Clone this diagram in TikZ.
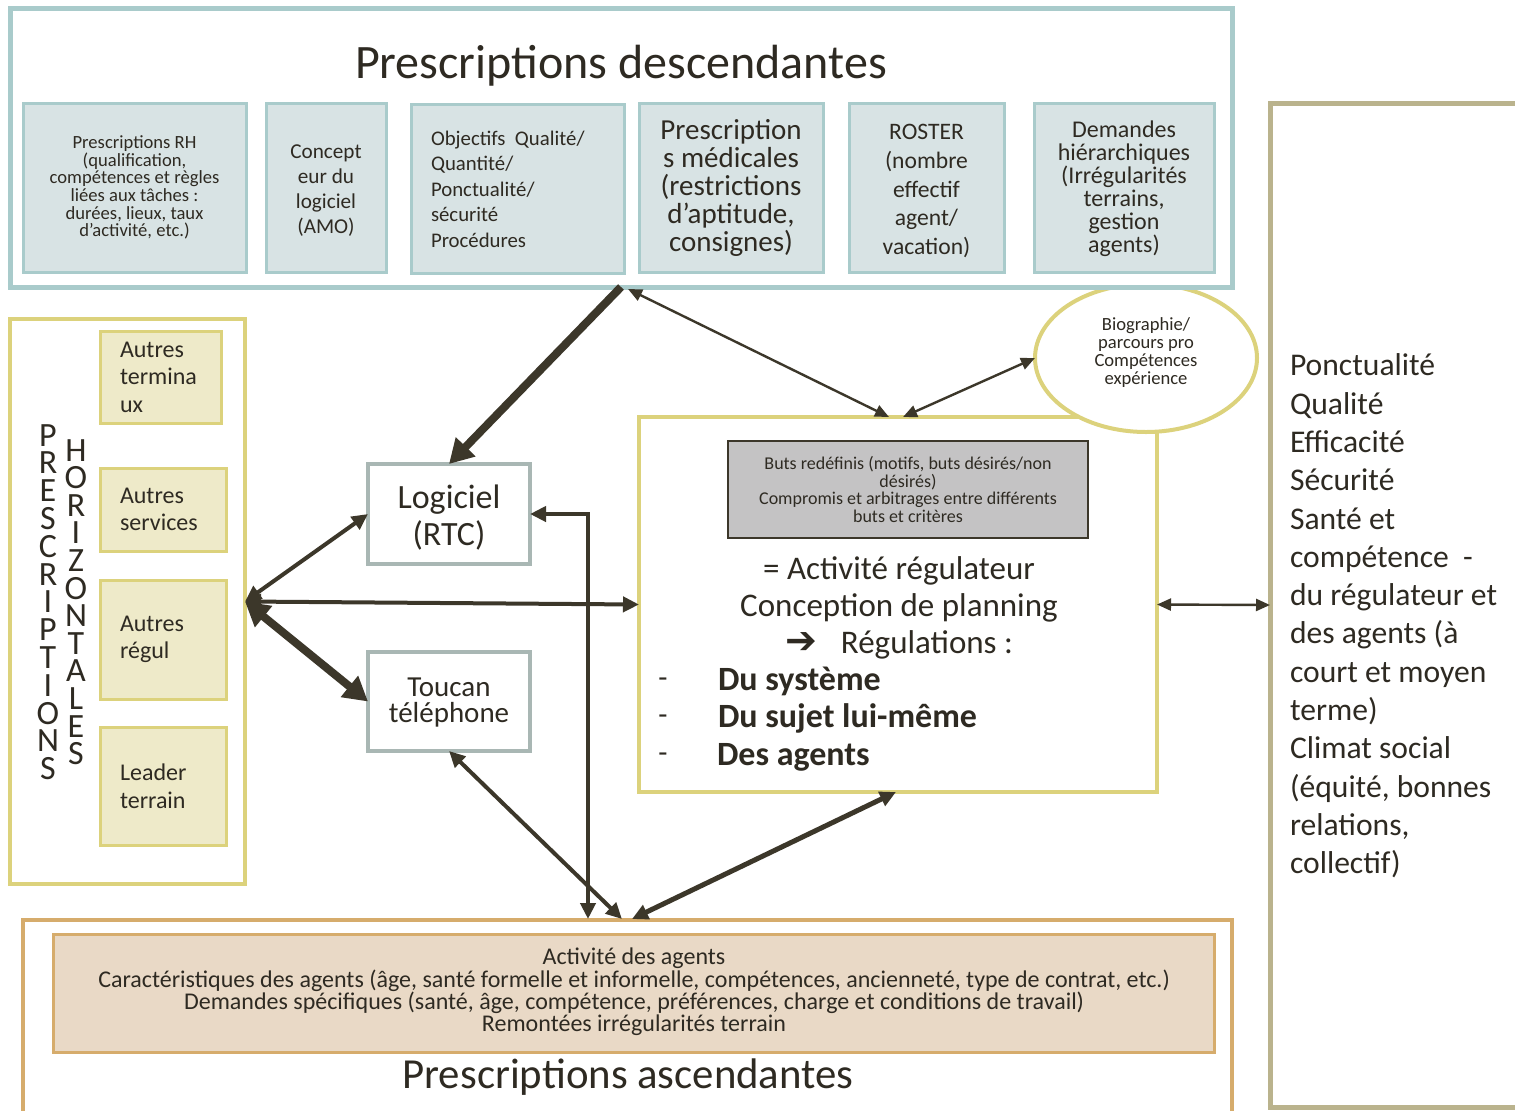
\documentclass[tikz,border=0pt]{standalone}
\usepackage{fontspec}
\setmainfont{Carlito}
\newfontfamily\symfont{DejaVu Sans}
\usetikzlibrary{arrows.meta,shapes.geometric}
\definecolor{ink}{HTML}{2E2A22}
\definecolor{teal}{HTML}{A9CBCB}
\definecolor{tealfill}{HTML}{D8E3E4}
\definecolor{ylw}{HTML}{DCD27C}
\definecolor{yfill}{HTML}{EEEAC9}
\definecolor{grayb}{HTML}{A9B7B4}
\definecolor{khaki}{HTML}{BAB38D}
\definecolor{tan}{HTML}{D6AC6C}
\definecolor{tanfill}{HTML}{E9D9C6}
\definecolor{dark}{HTML}{3C372A}
\definecolor{gfill}{HTML}{C4C3C4}
\newcommand\fsz[2]{\fontsize{#1}{#2}\selectfont\lineskiplimit=-30pt\relax}
\begin{document}
\begin{tikzpicture}[x=0.5pt,y=-0.5pt,
  every node/.style={text=ink, inner sep=0pt, outer sep=0pt},
  tbox/.style={draw=teal, fill=tealfill, line width=1.5pt, align=center},
  ybox/.style={draw=ylw, fill=yfill, line width=1.5pt, align=left, inner xsep=10pt, font={\fsz{12}{13.8}}},
  wbox/.style={draw=grayb, fill=white, line width=2pt, align=center},
  thinarr/.style={draw=dark, line width=1.2pt, {Triangle[length=7pt,width=6pt]}-{Triangle[length=7pt,width=6pt]}},
  medarr/.style={draw=dark, line width=2pt, {Triangle[length=8pt,width=7.5pt]}-{Triangle[length=8pt,width=7.5pt]}},
  thickarr/.style={draw=dark, line width=4pt, -{Triangle[length=12pt,width=13pt]}},
  thickdbl/.style={draw=dark, line width=4pt, {Triangle[length=12pt,width=13pt]}-{Triangle[length=12pt,width=13pt]}}
]
\useasboundingbox (0,0) rectangle (1515,1110);
\fill[white] (0,0) rectangle (1515,1110);

% left box
\node[draw=ylw, fill=white, line width=2pt, minimum width=117.5pt, minimum height=282.5pt] (left) at (127.5,601.5) {};
\node[ybox, minimum width=60.5pt, minimum height=46pt, text width=40.5pt] (ter) at (160.5,377) {Autres\\termina\\ux};
\node[ybox, minimum width=63pt, minimum height=41.5pt, text width=43pt] (serv) at (163,509.5) {Autres\\services};
\node[ybox, minimum width=63pt, minimum height=59.5pt, text width=43pt] (regul) at (163,639.5) {Autres\\régul};
\node[ybox, minimum width=63pt, minimum height=59pt, text width=43pt] (lead) at (163,786) {Leader\\terrain};
\node[align=center, font={\fsz{17}{13.9}}] (vp) at (48,602) {P\\R\\E\\S\\C\\R\\I\\P\\T\\I\\O\\N\\S};
\node[align=center, font={\fsz{17}{13.8}}] (vh) at (76,602) {H\\O\\R\\I\\Z\\O\\N\\T\\A\\L\\E\\S};

% central
\node[draw=ylw, fill=white, line width=2pt, minimum width=259pt, minimum height=187.5pt] (cent) at (898,604.5) {};
\node[draw=dark, fill=gfill, line width=1pt, minimum width=180pt, minimum height=48.5pt, align=center, font={\fsz{9}{8.75}}] (goal) at (908,489.5)
  {Buts redéfinis (motifs, buts désirés/non\\désirés)\\Compromis et arbitrages entre différents\\buts et critères};
\node[align=center, font={\fsz{16.5}{18.5}}] (act) at (899,608) {= Activité régulateur\\Conception de planning\\{\symfont\fontsize{19}{18.5}\selectfont ➔}\hspace{12pt}Régulations :};
\node[font={\fsz{15}{18}}] (d1) at (663,683) {-};
\node[font={\fsz{15}{18}}] (d2) at (663,720) {-};
\node[font={\fsz{15}{18}}] (d3) at (663,758) {-};
\node[anchor=mid west, font={\fsz{17}{18}\bfseries}] (l1) at (718,686) {Du système};
\node[anchor=mid west, font={\fsz{17}{18}\bfseries}] (l2) at (718,723) {Du sujet lui-même};
\node[anchor=mid west, font={\fsz{17}{18}\bfseries}] (l3) at (717,761) {Des agents};

% ellipse
\node[ellipse, draw=ylw, fill=white, line width=2pt, minimum width=111pt, minimum height=74pt] (ell) at (1146,358) {};
\node[align=center, font={\fsz{9.3}{9}}] (elltext) at (1146,353) {Biographie/\\parcours pro\\Compétences\\expérience};

% top box
\node[draw=teal, fill=white, line width=2.5pt, minimum width=611pt, minimum height=139.5pt] (top) at (621,147.5) {};
\node[font={\fsz{24}{26}}] (title) at (621,66) {Prescriptions descendantes};
\node[tbox, minimum width=111.5pt, minimum height=84.5pt, font={\fsz{9.3}{8.8}}] (rh) at (134.5,187.5)
  {Prescriptions RH\\(qualification,\\compétences et règles\\liées aux tâches :\\durées, lieux, taux\\d’activité, etc.)};
\node[tbox, minimum width=60pt, minimum height=84.5pt] (amo) at (326,187.5) {};
\node[align=center, font={\fsz{10.6}{12.6}}] (amotext) at (326,190.5) {Concept\\eur du\\logiciel\\(AMO)};
\node[tbox, align=left, inner xsep=10pt, text width=86.5pt, minimum width=106.5pt, minimum height=84.5pt, font={\fsz{10.4}{12.75}}] (obj) at (517.5,189)
  {Objectifs\hspace{0.45em}Qualité/\\Quantité/\\Ponctualité/\\sécurité\\Procédures};
\node[tbox, minimum width=92pt, minimum height=84.5pt, font={\fsz{14.5}{14}}] (med) at (731,187.5)
  {Prescription\\s médicales\\(restrictions\\d’aptitude,\\consignes)};
\node[tbox, minimum width=77.5pt, minimum height=84.5pt] (ros) at (926.5,187.5) {};
\node[align=center, font={\fsz{11.8}{14.3}}] (rostext) at (926.5,191) {ROSTER\\(nombre\\effectif\\agent/\\vacation)};
\node[tbox, minimum width=90pt, minimum height=84.5pt] (dem) at (1124,187.5) {};
\node[align=center, font={\fsz{12}{11.5}}] (demtext) at (1124,189) {Demandes\\hiérarchiques\\(Irrégularités\\terrains,\\gestion\\agents)};

% right box
\node[draw=khaki, fill=white, line width=2.5pt, minimum width=130pt, minimum height=502pt] (rbox) at (1400,605) {};
\node[anchor=west, align=left, font={\fsz{15.8}{19.15}}] (rtext) at (1290,616)
  {Ponctualité\\Qualité\\Efficacité\\Sécurité\\Santé et\\compétence\ \ -\\du régulateur et\\des agents (à\\court et moyen\\terme)\\Climat social\\(équité, bonnes\\relations,\\collectif)};

% bottom box
\node[draw=tan, fill=white, line width=2pt, minimum width=604.5pt, minimum height=105pt] (bot) at (627.5,1025) {};
\node[draw=tan, fill=tanfill, line width=1.5pt, minimum width=580.5pt, minimum height=59pt] (agents) at (633.5,993) {};
\node[align=center, font={\fsz{12}{11.2}}] (agtext) at (634,992)
  {Activité des agents\\Caractéristiques des agents (âge, santé formelle et informelle, compétences, ancienneté, type de contrat, etc.)\\Demandes spécifiques (santé, âge, compétence, préférences, charge et conditions de travail)\\Remontées irrégularités terrain};
\node[font={\fsz{21.4}{24}}] (asc) at (628,1077) {Prescriptions ascendantes};

% software / phone boxes
\node[wbox, minimum width=81pt, minimum height=50pt] (log) at (449,514) {};
\node[align=center, font={\fsz{17}{18.5}}] (logtext) at (449,518) {Logiciel\\(RTC)};
\node[wbox, minimum width=81pt, minimum height=49.5pt] (tou) at (449,701.5) {};
\node[align=center, font={\fsz{14.5}{13}}] (toutext) at (449,703) {Toucan\\téléphone};

% coordinates on borders
\coordinate (t1) at (621,287);
\coordinate (t2) at (628,289);
\coordinate (c1) at (889,417);
\coordinate (c2) at (903,417);
\coordinate (b1) at (588,919);
\coordinate (b2) at (622,919);
\coordinate (b3) at (632,919);
\coordinate (c3) at (896,792);

% arrows
\draw[thickarr] (t1) -- (log.north);
\draw[thinarr] (t2) -- (c1);
\draw[thinarr] (c2) -- (ell.west);
\draw[medarr] (left.east) -- (log.west);
\draw[medarr] (left.east) -- (cent.west);
\draw[thickdbl] (left.east) -- (tou.west);
\draw[medarr] (log.east) -| (b1);
\draw[medarr] (tou.south) -- (b2);
\draw[medarr, line width=2.5pt] (b3) -- (c3);
\draw[thinarr] (cent.east) -- (rbox.west);
\end{tikzpicture}
\end{document}
